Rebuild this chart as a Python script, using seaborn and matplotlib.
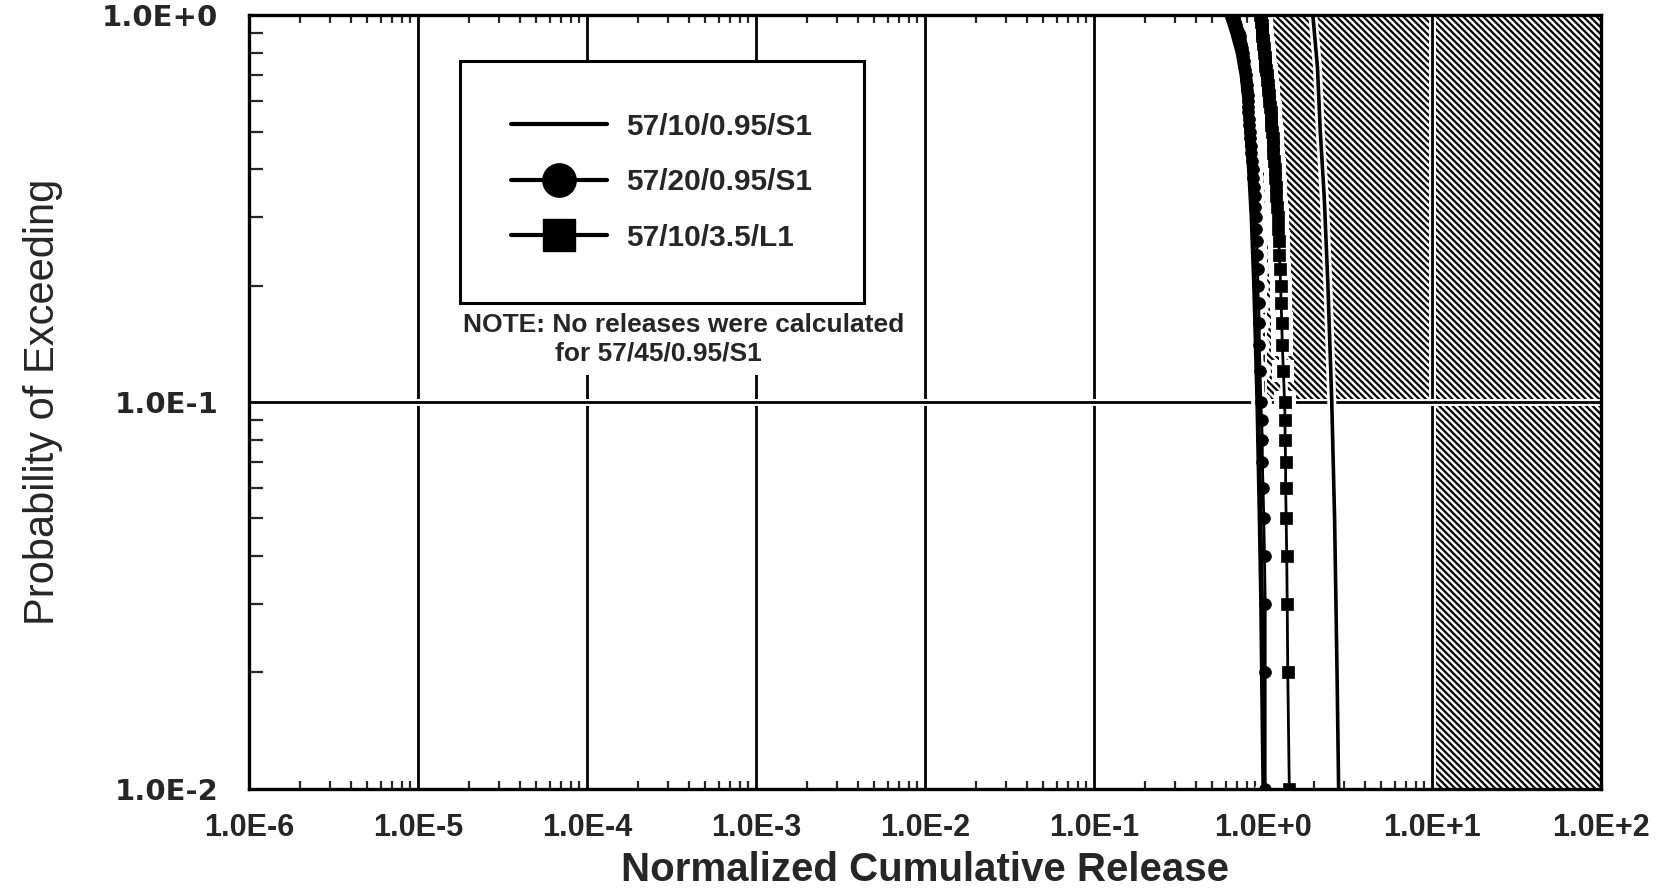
import numpy as np
import pandas as pd
import matplotlib
matplotlib.use("Agg")
import matplotlib.pyplot as plt
import matplotlib.patheffects as pe
from matplotlib.lines import Line2D
from matplotlib.patches import Rectangle
from matplotlib.ticker import LogLocator, NullFormatter, FixedLocator, FixedFormatter
import seaborn as sns

# ---- data -----------------------------------------------------------------
# exceedance probabilities at which the marked series are plotted
marked_prob = [1.00, 0.98, 0.96, 0.94, 0.92, 0.90, 0.88, 0.86, 0.84, 0.82,
               0.80, 0.78, 0.76, 0.74, 0.72, 0.70, 0.68, 0.66, 0.64, 0.62,
               0.60, 0.58, 0.56, 0.54, 0.52, 0.50, 0.48, 0.46, 0.44, 0.42,
               0.40, 0.38, 0.36, 0.34, 0.32, 0.30, 0.28, 0.26, 0.24, 0.22,
               0.20, 0.18, 0.16, 0.14, 0.12, 0.10, 0.09, 0.08, 0.07, 0.06,
               0.05, 0.04, 0.03, 0.02, 0.01]

# 57/20/0.95/S1 normalized release
release_57_20_095_s1 = [0.66, 0.67, 0.68, 0.69, 0.70, 0.72, 0.73, 0.73, 0.74, 0.75,
                        0.76, 0.76, 0.77, 0.77, 0.78, 0.79, 0.79, 0.80, 0.80, 0.81,
                        0.82, 0.82, 0.82, 0.83, 0.83, 0.84, 0.84, 0.85, 0.85, 0.86,
                        0.87, 0.87, 0.88, 0.89, 0.90, 0.91, 0.91, 0.92, 0.92, 0.93,
                        0.93, 0.94, 0.95, 0.95, 0.96, 0.97, 0.98, 0.99, 0.99, 1.00,
                        1.01, 1.02, 1.03, 1.03, 1.03]

# 57/10/3.5/L1 normalized release
release_57_10_35_l1 = [0.96, 0.97, 0.97, 0.98, 0.98, 0.99, 0.99, 1.00, 1.00, 1.01,
                       1.01, 1.02, 1.03, 1.03, 1.04, 1.05, 1.06, 1.07, 1.07, 1.08,
                       1.09, 1.10, 1.11, 1.11, 1.12, 1.13, 1.14, 1.14, 1.15, 1.16,
                       1.17, 1.18, 1.19, 1.20, 1.21, 1.22, 1.23, 1.24, 1.25, 1.26,
                       1.27, 1.28, 1.29, 1.30, 1.32, 1.34, 1.35, 1.35, 1.36, 1.36,
                       1.37, 1.38, 1.39, 1.40, 1.43]

# 57/10/0.95/S1 (plain line)
line_prob = [1.00, 0.90, 0.80, 0.70, 0.60, 0.50, 0.40, 0.30, 0.20, 0.10, 0.05, 0.03, 0.02, 0.01]
release_57_10_095_s1 = [0.61, 0.66, 0.71, 0.75, 0.78, 0.80, 0.83, 0.86, 0.89, 0.93, 0.96, 0.98, 0.99, 1.01]

# additional unlabeled curve
extra_prob = [1.00, 0.73, 0.50, 0.34, 0.20, 0.10, 0.05, 0.02, 0.01]
extra_release = [1.97, 2.10, 2.18, 2.30, 2.42, 2.55, 2.65, 2.74, 2.80]

# release limits (step boundary of the hatched region)
limit_release = [1.0, 10.0, 100.0]
limit_prob = [0.1, 0.001, 0.001]

legend_labels = ["57/10/0.95/S1", "57/20/0.95/S1", "57/10/3.5/L1"]
x_tick_values = [1e-6, 1e-5, 1e-4, 1e-3, 1e-2, 1e-1, 1e0, 1e1, 1e2]
x_tick_labels = ["1.0E-6", "1.0E-5", "1.0E-4", "1.0E-3", "1.0E-2", "1.0E-1",
                 "1.0E+0", "1.0E+1", "1.0E+2"]
y_tick_values = [1e-2, 1e-1, 1e0]
y_tick_labels = ["1.0E-2", "1.0E-1", "1.0E+0"]

# ---- style ----------------------------------------------------------------
sns.set_style("white")
plt.rcParams["font.family"] = ["Liberation Sans", "DejaVu Sans"]
plt.rcParams["hatch.linewidth"] = 1.6
plt.rcParams["hatch.color"] = "black"

fig = plt.figure(figsize=(16.69, 8.88), dpi=100)
ax = fig.add_axes([0.1492, 0.1115, 0.8101, 0.8716])
ax.set_xscale("log")
ax.set_yscale("log")
ax.set_xlim(1e-6, 1e2)
ax.set_ylim(1e-2, 1e0)

# hatched region beyond the release limits
ax.fill_between(limit_release, limit_prob, 1.0, step="post",
                facecolor="white", edgecolor="black", hatch="\\\\\\\\\\",
                linewidth=0, zorder=1)

# decade grid
halo = [pe.Stroke(linewidth=5, foreground="white"), pe.Normal()]
for xv in x_tick_values[1:-1]:
    ax.axvline(xv, color="black", lw=2.0, zorder=2, path_effects=halo)
ax.axhline(0.1, color="black", lw=2.0, zorder=2, path_effects=halo)

# ---- curves ---------------------------------------------------------------
df_line = pd.DataFrame({"release": release_57_10_095_s1, "prob": line_prob})
df_circ = pd.DataFrame({"release": release_57_20_095_s1, "prob": marked_prob})
df_sq = pd.DataFrame({"release": release_57_10_35_l1, "prob": marked_prob})
df_extra = pd.DataFrame({"release": extra_release, "prob": extra_prob})

# white under-strokes so the curves stand out over the hatching
sns.lineplot(data=df_extra, x="release", y="prob", sort=False, estimator=None,
             color="white", lw=6.5, ax=ax, zorder=3)
sns.lineplot(data=df_sq, x="release", y="prob", sort=False, estimator=None,
             color="white", lw=5.5, marker="s", markersize=13, mec="white", mew=3,
             ax=ax, zorder=3)
sns.lineplot(data=df_circ, x="release", y="prob", sort=False, estimator=None,
             color="white", lw=5.5, marker="o", markersize=12, mec="white", mew=3,
             ax=ax, zorder=3)
sns.lineplot(data=df_line, x="release", y="prob", sort=False, estimator=None,
             color="white", lw=7, ax=ax, zorder=3)

sns.lineplot(data=df_extra, x="release", y="prob", sort=False, estimator=None,
             color="black", lw=2.6, ax=ax, zorder=4)
sns.lineplot(data=df_sq, x="release", y="prob", sort=False, estimator=None,
             color="black", lw=2.0, marker="s", markersize=9, mec="black", mew=0.5,
             ax=ax, zorder=4)
sns.lineplot(data=df_circ, x="release", y="prob", sort=False, estimator=None,
             color="black", lw=2.0, marker="o", markersize=8.5, mec="black", mew=0.5,
             ax=ax, zorder=4)
sns.lineplot(data=df_line, x="release", y="prob", sort=False, estimator=None,
             color="black", lw=3.5, ax=ax, zorder=4)

# ---- axes -----------------------------------------------------------------
for sp in ax.spines.values():
    sp.set_linewidth(2.4)
    sp.set_color("black")
    sp.set_zorder(6)

ax.xaxis.set_major_locator(FixedLocator(x_tick_values))
ax.xaxis.set_major_formatter(FixedFormatter(x_tick_labels))
ax.yaxis.set_major_locator(FixedLocator(y_tick_values))
ax.yaxis.set_major_formatter(FixedFormatter(y_tick_labels))
ax.xaxis.set_minor_locator(LogLocator(base=10, subs=np.arange(2, 10), numticks=100))
ax.yaxis.set_minor_locator(LogLocator(base=10, subs=np.arange(2, 10), numticks=100))
ax.xaxis.set_minor_formatter(NullFormatter())
ax.yaxis.set_minor_formatter(NullFormatter())

ax.tick_params(axis="both", which="major", length=0)
ax.tick_params(axis="x", which="major", pad=17)
ax.tick_params(axis="y", which="major", pad=22)
ax.tick_params(axis="x", which="minor", direction="in", length=6, width=1.6,
               top=True, bottom=True)
ax.tick_params(axis="y", which="minor", direction="in", length=10, width=1.6,
               left=True, right=True)
for lab in ax.get_xticklabels():
    lab.set_fontfamily(["Liberation Sans", "DejaVu Sans"])
    lab.set_fontweight("bold")
    lab.set_fontsize(22)
for lab in ax.get_yticklabels():
    lab.set_fontfamily(["DejaVu Sans"])
    lab.set_fontweight("bold")
    lab.set_fontsize(21)

ax.set_xlabel("Normalized Cumulative Release", fontsize=29, fontweight="bold",
              labelpad=6)
ax.set_ylabel("Probability of Exceeding", fontsize=30, labelpad=28)

# ---- legend and note -----------------------------------------------------
handles = [
    Line2D([], [], color="black", lw=3),
    Line2D([], [], color="black", lw=3, marker="o", markersize=24),
    Line2D([], [], color="black", lw=3, marker="s", markersize=23),
]
leg = ax.legend(handles, legend_labels, loc="upper left",
                bbox_to_anchor=(0.156, 0.940), frameon=True, fancybox=False,
                prop={"family": ["Liberation Sans", "DejaVu Sans"],
                      "weight": "bold", "size": 21.5},
                handlelength=3.2, handletextpad=0.65, borderpad=1.72,
                labelspacing=0.92, borderaxespad=0)
leg.get_frame().set_edgecolor("black")
leg.get_frame().set_linewidth(2.2)
leg.get_frame().set_facecolor("white")
leg.get_frame().set_alpha(1)
leg.set_zorder(7)

# blank strip under the legend carrying the note
ax.add_patch(Rectangle((0.153, 0.535), 0.345, 0.10, transform=ax.transAxes,
                       facecolor="white", edgecolor="none", zorder=5))
note_font = {"family": ["Liberation Sans", "DejaVu Sans"], "weight": "bold", "size": 19}
ax.text(0.158, 0.5995, "NOTE: No releases were calculated", transform=ax.transAxes,
        ha="left", va="center", zorder=6, **note_font)
ax.text(0.226, 0.563, "for 57/45/0.95/S1", transform=ax.transAxes,
        ha="left", va="center", zorder=6, **note_font)

fig.savefig("out.png", dpi=100)
